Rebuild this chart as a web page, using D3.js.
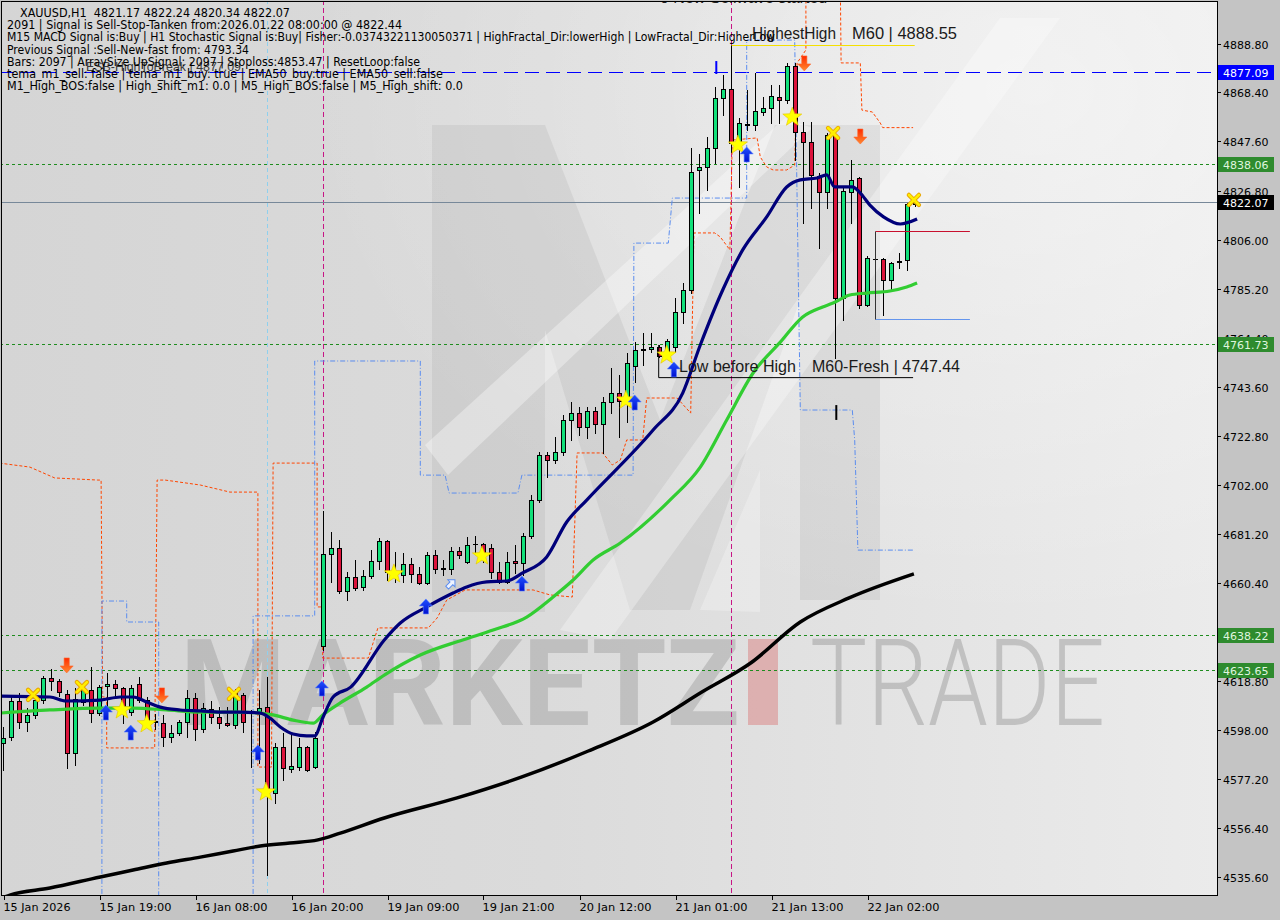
<!DOCTYPE html>
<html><head><meta charset="utf-8">
<script src="https://cdn.jsdelivr.net/npm/d3@7"></script>
<style>html,body{margin:0;padding:0;background:#c4c4c4;} svg{display:block}</style>
</head><body><svg id="c" width="1280" height="920"></svg>
<script>
// ---------------- DATA ----------------
const tickBars = [0,12,24,36,48,60,72,84,96,108];
const tickLabels = ["15 Jan 2026","15 Jan 19:00","16 Jan 08:00","16 Jan 20:00","19 Jan 09:00","19 Jan 21:00","20 Jan 12:00","21 Jan 01:00","21 Jan 13:00","22 Jan 02:00"];
const priceTicks = [4535.6,4556.4,4577.2,4598.0,4618.8,4639.6,4660.4,4681.2,4702.0,4722.8,4743.6,4764.4,4785.2,4806.0,4826.8,4847.6,4868.4,4888.8];

const open = [4592.5,4595.0,4610.3,4601.4,4604.4,4610.7,4620.1,4618.8,4613.3,4588.2,4609.9,4615.0,4605.2,4616.7,4617.6,4615.8,4605.6,4617.6,4610.7,4601.4,
4600.9,4595.0,4596.7,4601.4,4611.6,4598.4,4606.9,4603.5,4600.9,4600.1,4612.9,4605.2,4605.6,4607.7,4571.3,4590.8,4581.4,4582.3,4590.8,4582.3,
4633.6,4672.6,4675.2,4656.9,4662.9,4658.7,4663.3,4669.7,4678.2,4665.0,4663.7,4668.4,4664.2,4660.3,4672.2,4666.3,4666.3,4673.9,4669.3,4676.9,
4676.9,4675.2,4665.0,4660.8,4669.7,4668.8,4680.3,4695.5,4714.6,4712.5,4715.9,4729.5,4732.4,4726.5,4733.3,4727.8,4737.1,4740.9,4737.9,4752.4,
4759.2,4759.6,4760.4,4758.3,4760.4,4775.3,4784.6,4835.5,4836.8,4844.8,4866.0,4869.9,4846.9,4854.6,4854.6,4860.1,4861.8,4866.5,4865.2,4879.6,
4851.6,4847.4,4833.0,4826.2,4850.3,4781.2,4826.2,4832.1,4778.2,4797.8,4797.8,4788.9,4796.5,4797.4,4821.17];
const high = [4599.3,4612.9,4613.7,4607.3,4612.9,4620.9,4623.9,4619.6,4615.0,4615.8,4618.0,4624.7,4617.1,4622.2,4619.2,4616.3,4617.1,4620.5,4612.0,4605.0,
4604.4,4600.1,4602.2,4615.0,4613.7,4609.5,4610.3,4607.7,4607.7,4615.4,4613.7,4606.5,4615.0,4620.5,4592.5,4596.7,4596.3,4594.6,4591.2,4597.2,
4690.9,4682.0,4678.6,4665.0,4670.1,4665.9,4674.3,4679.4,4678.6,4673.5,4673.1,4670.9,4667.1,4673.5,4674.3,4670.1,4675.6,4675.6,4679.8,4680.3,
4677.3,4676.9,4669.3,4673.5,4676.5,4681.5,4697.7,4715.9,4715.9,4722.3,4731.6,4737.1,4735.0,4735.0,4735.0,4739.2,4751.5,4748.6,4757.9,4762.5,
4766.4,4766.4,4761.3,4763.8,4781.2,4787.6,4844.8,4842.3,4849.5,4870.7,4875.8,4888.55,4857.5,4869.4,4876.6,4866.5,4871.5,4871.5,4880.9,4880.9,
4855.8,4855.8,4834.2,4851.2,4851.2,4828.3,4839.7,4832.5,4799.0,4799.0,4798.2,4796.5,4800.3,4821.5,4822.24];
const low = [4581.0,4593.8,4598.9,4597.6,4603.1,4609.5,4615.0,4612.4,4581.9,4583.3,4608.6,4601.4,4604.4,4606.5,4612.4,4600.9,4604.4,4609.9,4599.3,4598.5,
4591.2,4592.9,4595.9,4595.0,4593.8,4597.2,4600.9,4598.9,4599.7,4598.9,4597.2,4582.3,4584.0,4536.5,4567.0,4576.8,4580.2,4581.0,4580.6,4581.9,
4631.9,4660.8,4656.1,4653.1,4657.4,4657.4,4662.5,4666.3,4661.6,4660.8,4660.8,4660.8,4659.9,4659.9,4664.6,4663.7,4664.2,4670.9,4668.8,4672.6,
4669.3,4662.5,4660.3,4660.3,4664.6,4663.7,4679.4,4694.7,4705.3,4711.2,4714.6,4721.0,4723.1,4721.8,4724.0,4715.5,4732.4,4722.3,4728.6,4745.6,
4752.8,4758.3,4756.2,4757.5,4758.3,4770.6,4783.3,4817.3,4827.0,4838.5,4858.8,4843.1,4828.3,4852.5,4852.5,4858.8,4855.4,4855.4,4864.0,4839.7,
4813.0,4819.4,4802.4,4819.4,4755.8,4771.9,4813.0,4777.0,4778.0,4796.5,4774.0,4784.6,4793.9,4793.1,4820.34];
const close = [4594.6,4610.3,4601.4,4604.4,4610.7,4620.1,4618.8,4614.1,4588.2,4611.2,4615.8,4605.2,4616.3,4617.6,4615.8,4606.1,4615.8,4610.7,4601.4,4602.0,
4595.0,4596.7,4601.4,4611.6,4598.4,4607.3,4603.5,4600.9,4600.1,4613.7,4601.4,4605.6,4607.3,4571.3,4590.8,4581.9,4582.7,4590.8,4581.0,4594.6,
4672.6,4675.2,4656.9,4662.9,4658.2,4663.3,4669.7,4678.2,4665.0,4664.6,4668.4,4664.2,4660.3,4672.2,4666.3,4666.5,4673.9,4672.2,4676.5,4677.0,
4673.1,4665.0,4660.8,4669.3,4668.8,4680.3,4695.5,4714.6,4712.5,4715.9,4729.5,4732.4,4726.5,4733.3,4727.8,4737.1,4740.9,4737.5,4753.6,4759.2,
4759.4,4760.4,4756.6,4763.0,4775.3,4784.6,4834.7,4836.8,4844.8,4866.0,4869.9,4846.9,4855.4,4854.8,4860.5,4861.8,4866.9,4865.2,4879.6,4851.6,
4847.4,4833.4,4826.2,4850.3,4781.2,4826.6,4831.3,4778.2,4798.2,4797.9,4788.9,4796.1,4796.9,4821.17,4822.07];

// moving averages: [bar index, price]
const emaFast = [[-0.4,4612.4],[5.8,4612.0],[7.8,4610.3],[12.1,4610.7],[14.6,4612.0],[16.2,4612.0],[17.9,4609.9],[19.6,4607.7],[22.1,4606.5],[24.6,4606.1],[27.1,4605.6],[29.6,4605.6],[32.1,4605.2],[33.3,4603.1],[34.6,4599.3],[36.2,4596.3],[37.9,4595.5],[38.9,4595.5],[39.9,4603.1],[41.2,4612.0],[43.4,4616.2],[47.6,4636.2],[49.6,4643.4],[52.9,4650.2],[56.2,4656.1],[57.9,4658.7],[60.4,4660.8],[62.9,4661.2],[64.9,4664.6],[67.9,4671.4],[70.4,4686.2],[72.9,4695.5],[81.2,4725.2],[84.9,4740.9],[87.1,4761.3],[89.9,4784.6],[92.4,4801.6],[95.4,4815.6],[97.9,4828.3],[99.6,4831.3],[101.7,4832.1],[102.9,4833.4],[103.9,4828.3],[106.1,4828.3],[107.1,4825.7],[108.3,4820.6],[110.0,4815.6],[112.1,4812.6],[114.2,4814.7]];
const ema50 = [[-0.4,4605.2],[5.8,4606.5],[12.1,4607.3],[16.2,4607.3],[20.4,4606.5],[24.6,4605.6],[28.7,4605.6],[32.1,4605.2],[33.7,4604.4],[36.2,4602.2],[38.7,4600.9],[39.9,4604.4],[42.1,4609.5],[45.4,4616.2],[47.6,4621.3],[52.1,4629.8],[57.4,4636.2],[61.2,4640.4],[65.4,4645.9],[68.7,4654.4],[71.2,4661.6],[73.7,4670.1],[77.1,4677.3],[83.3,4695.5],[87.1,4709.5],[90.4,4729.5],[93.7,4749.4],[97.1,4762.5],[99.9,4773.2],[102.4,4777.4],[103.7,4779.1],[105.8,4782.5],[107.9,4783.3],[110.8,4784.2],[112.9,4785.9],[114.2,4787.6]];
const ema200 = [[-0.6,4526.2],[0.8,4528.0],[5.8,4531.0],[12.1,4535.7],[16.2,4538.6],[20.4,4541.6],[24.6,4544.1],[28.7,4546.7],[32.1,4548.8],[35.8,4550.1],[39.3,4551.4],[42.1,4554.3],[47.6,4560.7],[56.7,4569.2],[64.8,4578.1],[73.1,4589.1],[81.2,4601.4],[87.3,4614.1],[93.4,4626.4],[99.6,4643.8],[105.7,4654.0],[113.8,4664.2]];

// channel step lines [bar index, price], null = break
const orangeLine = [[-0.5,4711.2],[3.3,4709.5],[6.4,4704.9],[11.8,4704.0],[12.2,4704.0],[12.4,4612.0],[12.9,4612.0],[12.9,4590.4],[18.9,4590.4],[19.2,4704.0],[20.2,4704.0],[24.6,4701.9],[28.3,4698.9],[31.8,4698.9],[31.8,4582.3],[33.5,4582.3],[33.7,4711.2],[39.2,4711.2],[39.2,4650.2],[39.9,4650.2],[39.9,4628.5],[45.6,4628.5],[46.8,4641.3],[53.1,4641.3],[54.2,4645.5],[55.4,4653.1],[57.7,4657.4],[66.2,4657.4],[68.3,4655.3],[71.1,4654.4],[71.7,4715.5],[74.9,4715.5],[76.1,4710.4],[77.1,4712.5],[77.9,4721.0],[79.9,4721.0],[80.4,4738.8],[84.2,4738.8],[85.9,4732.4],[86.3,4808.8],[88.9,4808.8],[89.6,4807.1],[90.8,4801.6],[91.1,4848.2],[94.2,4849.1],[94.6,4841.0],[95.4,4836.8],[96.2,4835.5],[97.9,4835.5],[98.9,4837.6],[99.2,4880.9],[100.3,4886.4],[100.3,4915],null,[104.6,4915],[104.7,4880.9],[107.1,4880.9],[107.3,4860.9],[108.6,4860.1],[109.6,4855.4],[109.9,4853.47],[113.7,4853.47]];
const blueLine = [[12.3,4520],[12.3,4652.7],[15.4,4652.7],[15.4,4643.8],[19.4,4643.8],[19.4,4520],null,[31.2,4520],[31.2,4646.4],[38.9,4646.4],[38.9,4754.5],[52.1,4754.5],[52.1,4706.1],[55.2,4706.1],[55.7,4698.5],[64.3,4698.5],[64.8,4706.1],[78.7,4706.1],[78.8,4804.5],[83.1,4804.5],[83.6,4823.6],[92.9,4823.6],[92.9,4890.6],[98.9,4890.6],[99.6,4733.7],[106.1,4733.7],[106.4,4721.0],[106.8,4674.3],[113.7,4674.3]];

const levels = [4877.09, 4838.06, 4822.07, 4761.73, 4638.22, 4623.65];
const levelKinds = ["blue","green","bid","green","green","green"];

const starPts = [[14.8,4606.5],[17.9,4600.6],[32.8,4571.7],[48.8,4664.2],[59.8,4671.8],[77.8,4737.9],[82.9,4757.0],[91.8,4846.1],[98.6,4857.9]];
const crossPts = [[3.7,4612.9],[9.8,4616.2],[28.8,4613.3],[103.7,4851.2],[113.8,4822.8]];
const upArrowPts = [[12.8,4605.2],[15.9,4596.7],[31.8,4588.3],[39.8,4615.4],[52.8,4650.2],[64.8,4659.9],[78.9,4736.7],[83.8,4750.7],[92.9,4841.9]];
const downArrowPts = [[7.9,4625.6],[19.8,4612.9],[100.1,4880.9],[107.1,4849.9]];
const hollowArrowPts = [[55.9,4659.9]];

const headerLines = [
 "XAUUSD,H1\u00a0\u00a04821.17 4822.24 4820.34 4822.07",
 "2091 | Signal is Sell-Stop-Tanken from:2026.01.22 08:00:00 @ 4822.44",
 "M15 MACD Signal is:Buy | H1 Stochastic Signal is:Buy| Fisher:-0.03743221130050371 | HighFractal_Dir:lowerHigh | LowFractal_Dir:HigherLow",
 "Previous Signal :Sell-New-fast from: 4793.34",
 "Bars: 2097 | ArraySize UpSignal: 2097 | Stoploss:4853.47 | ResetLoop:false",
 "tema_m1_sell: false | tema_m1_buy: true | EMA50_buy:true | EMA50_sell:false",
 "M1_High_BOS:false | High_shift_m1: 0.0 | M5_High_BOS:false | M5_High_shift: 0.0"];
const headerWidths = [270,395,768,242,413,436,456];

// ---------------- CHART ----------------
const svg = d3.select("#c");
const PR = 1217, PB = 895;
const x = d3.scaleLinear().domain([0,114]).range([3.5, 915.5]);
const y = d3.scaleLinear().domain([4528.03, 4907.59]).range([895, 0]);
const defs = svg.append("defs");
const bg = defs.append("linearGradient").attr("id","bg").attr("x1",0).attr("x2",1).attr("y1",0).attr("y2",0);
bg.append("stop").attr("offset",0).attr("stop-color","#d5d5d5");
bg.append("stop").attr("offset",0.45).attr("stop-color","#dbdbdb");
bg.append("stop").attr("offset",1).attr("stop-color","#ebebeb");
const rg = defs.append("radialGradient").attr("id","rg").attr("cx",0.85).attr("cy",0.1).attr("r",0.6);
rg.append("stop").attr("offset",0).attr("stop-color","#fff").attr("stop-opacity",0.45);
rg.append("stop").attr("offset",1).attr("stop-color","#fff").attr("stop-opacity",0);
defs.append("clipPath").attr("id","clip").append("rect").attr("x",1).attr("y",1).attr("width",PR-1).attr("height",PB-1);
const ag = defs.append("linearGradient").attr("id","dn").attr("x1",0).attr("x2",0).attr("y1",0).attr("y2",1);
ag.append("stop").attr("offset",0).attr("stop-color","#ff8a30");
ag.append("stop").attr("offset",1).attr("stop-color","#ff2a00");
const ug = defs.append("linearGradient").attr("id","up").attr("x1",0).attr("x2",0).attr("y1",0).attr("y2",1);
ug.append("stop").attr("offset",0).attr("stop-color","#2050ff");
ug.append("stop").attr("offset",1).attr("stop-color","#0010d0");

svg.append("rect").attr("width",1280).attr("height",920).attr("fill","#c4c4c4");
const plot = svg.append("g").attr("clip-path","url(#clip)");
plot.append("rect").attr("x",1).attr("y",1).attr("width",PR-1).attr("height",PB-1).attr("fill","url(#bg)");
plot.append("rect").attr("x",1).attr("y",1).attr("width",PR-1).attr("height",PB-1).attr("fill","url(#rg)");

// watermark
const wm = plot.append("g");
wm.append("path").attr("d","M432,612 L432,125 L545,125 L660,420 L775,125 L880,125 L880,600 L800,600 L800,300 L690,610 L630,610 L545,330 L545,612 Z")
  .attr("fill","#7a7a7a").attr("opacity",0.12);
wm.append("path").attr("d","M425,445 L785,118 L812,128 L448,475 Z").attr("fill","#fff").attr("opacity",0.35);
wm.append("path").attr("d","M560,630 L1000,18 L1060,18 L610,640 Z").attr("fill","#fff").attr("opacity",0.3);
wm.append("path").attr("d","M700,610 L760,470 L760,612 Z").attr("fill","#fff").attr("opacity",0.25);
wm.append("text").attr("x",180).attr("y",725).attr("font-family","Roboto, Liberation Sans, sans-serif").attr("font-weight","bold")
  .attr("font-size",120).attr("textLength",560).attr("lengthAdjust","spacingAndGlyphs").attr("fill","#8c8c8c").attr("opacity",0.35).text("MARKETZ");
wm.append("rect").attr("x",748).attr("y",639).attr("width",30).attr("height",86).attr("fill","#d98080").attr("opacity",0.5);
wm.append("text").attr("x",810).attr("y",725).attr("font-family","Roboto, Liberation Sans, sans-serif").attr("font-weight",300)
  .attr("font-size",120).attr("textLength",295).attr("lengthAdjust","spacingAndGlyphs").attr("fill","#8c8c8c").attr("opacity",0.4).text("TRADE");

// vertical separators
[[40,"#c71585","5,3"],[91,"#c71585","5,3"],[33,"#8fd0ee","4,3"]].forEach(([b,c,d])=>{
  plot.append("line").attr("x1",x(b)).attr("x2",x(b)).attr("y1",0).attr("y2",PB).attr("stroke",c).attr("stroke-dasharray",d).attr("stroke-width",1);
});

// horizontal levels
levels.forEach((v,k)=>{
  const yy = Math.round(y(v))+0.5, kind = levelKinds[k];
  const ln = plot.append("line").attr("x1",0).attr("x2",PR).attr("y1",yy).attr("y2",yy).attr("stroke-width",1);
  if(kind==="blue") ln.attr("stroke","#0000ff").attr("stroke-dasharray","14,7");
  else if(kind==="green") ln.attr("stroke","#1e8c1e").attr("stroke-dasharray","3,3");
  else ln.attr("stroke","#778899");
});

// step lines
const sl = d3.line().defined(d=>d!==null).x(d=>x(d[0])).y(d=>y(d[1]));
plot.append("path").attr("d",sl(orangeLine)).attr("fill","none").attr("stroke","#ff4500").attr("stroke-width",1).attr("stroke-dasharray","3,2");
plot.append("path").attr("d",sl(blueLine)).attr("fill","none").attr("stroke","#5b8def").attr("stroke-width",1).attr("stroke-dasharray","5,2,1,2");

// candles
const cg = plot.append("g");
open.forEach((o,i)=>{
  const c = close[i], cx = x(i);
  const yh = Math.round(y(high[i])), yl = Math.round(y(low[i]));
  cg.append("line").attr("x1",cx).attr("x2",cx).attr("y1",yh).attr("y2",yl+1).attr("stroke","#000").attr("stroke-width",1);
  const yt = Math.round(y(Math.max(o,c))), yb = Math.round(y(Math.min(o,c)));
  if(yb-yt < 1){
    cg.append("line").attr("x1",cx-2.5).attr("x2",cx+2.5).attr("y1",yt+0.5).attr("y2",yt+0.5).attr("stroke","#000").attr("stroke-width",1);
  } else {
    cg.append("rect").attr("x",cx-2).attr("y",yt+0.5).attr("width",4).attr("height",yb-yt)
      .attr("fill", c>=o ? "#12e07a" : "#dc143c").attr("stroke","#000").attr("stroke-width",1);
  }
});

// moving averages
const ml = d3.line().x(d=>x(d[0])).y(d=>y(d[1])).curve(d3.curveMonotoneX);
plot.append("path").attr("d",ml(ema200)).attr("fill","none").attr("stroke","#000").attr("stroke-width",3.5);
plot.append("path").attr("d",ml(ema50)).attr("fill","none").attr("stroke","#32cd32").attr("stroke-width",3.2);
plot.append("path").attr("d",ml(emaFast)).attr("fill","none").attr("stroke","#00007a").attr("stroke-width",3.2);

// annotation objects
plot.append("line").attr("x1",x(91)).attr("x2",x(113.9)).attr("y1",Math.round(y(4888.55))+0.5).attr("y2",Math.round(y(4888.55))+0.5).attr("stroke","#f5e000");
plot.append("path").attr("d",sl([[81.9,4761.3],[81.9,4747.44],[113.7,4747.44]])).attr("fill","none").attr("stroke","#000").attr("stroke-width",1);
// box
const bx1 = x(109), bx2 = x(120.8), by1 = Math.round(y(4809.6))+0.5, by2 = Math.round(y(4772.3))+0.5;
plot.append("line").attr("x1",bx1).attr("x2",bx2).attr("y1",by1).attr("y2",by1).attr("stroke","#c8102e");
plot.append("line").attr("x1",bx1).attr("x2",bx2).attr("y1",by2).attr("y2",by2).attr("stroke","#6495ed");
plot.append("line").attr("x1",bx1).attr("x2",bx1).attr("y1",by1).attr("y2",by2).attr("stroke","#333");
// small ticks
plot.append("line").attr("x1",x(104.1)).attr("x2",x(104.1)).attr("y1",y(4735.8)).attr("y2",y(4729.5)).attr("stroke","#000").attr("stroke-width",2);
plot.append("line").attr("x1",x(89.1)).attr("x2",x(89.1)).attr("y1",y(4881.7)).attr("y2",y(4876.2)).attr("stroke","#0000ff").attr("stroke-width",2);

// markers
function starPath(r1,r2){const p=[];for(let k=0;k<10;k++){const r=k%2?r2:r1;const a=-Math.PI/2+k*Math.PI/5;p.push([(r*Math.cos(a)).toFixed(2),(r*Math.sin(a)).toFixed(2)]);}return "M"+p.map(d=>d.join(",")).join("L")+"Z";}
const mk = plot.append("g");
starPts.forEach(d=>mk.append("path").attr("d",starPath(10,4.2)).attr("transform",`translate(${x(d[0])},${y(d[1])})`).attr("fill","#ffff00").attr("stroke","#e6c200").attr("stroke-width",0.6));
crossPts.forEach(d=>{
  const g = mk.append("g").attr("transform",`translate(${x(d[0])},${y(d[1])})`);
  ["#e8a200","#ffee00"].forEach((c,k)=>{
    g.append("path").attr("d","M-5,-5L5,5M-5,5L5,-5").attr("stroke",c).attr("stroke-width",k?2.6:4.4).attr("stroke-linecap","round");
  });
});
const upD = "M0,-8 L6.5,-1 L2.6,-1 L2.6,7 L-2.6,7 L-2.6,-1 L-6.5,-1 Z";
upArrowPts.forEach(d=>mk.append("path").attr("d",upD).attr("transform",`translate(${x(d[0])},${y(d[1])})`).attr("fill","url(#up)").attr("stroke","#5a82ff").attr("stroke-width",0.6));
downArrowPts.forEach(d=>mk.append("path").attr("d",upD).attr("transform",`translate(${x(d[0])},${y(d[1])}) scale(1,-1)`).attr("fill","url(#dn)").attr("stroke","#ff6a30").attr("stroke-width",0.6));
hollowArrowPts.forEach(d=>mk.append("path").attr("d","M0,-6 L5,-1 L2,-1 L2,5 L-2,5 L-2,-1 L-5,-1 Z").attr("transform",`translate(${x(d[0])},${y(d[1])}) rotate(45)`).attr("fill","#eef3ff").attr("stroke","#5b8def").attr("stroke-width",1));

// texts inside plot
const tf = "Liberation Sans, Arial, sans-serif";
plot.append("text").attr("x",660).attr("y",3).attr("font-family",tf).attr("font-size",16).attr("fill","#222").text("0 New Sellwave started");
plot.append("text").attr("x",752).attr("y",39).attr("font-family",tf).attr("font-size",17).attr("fill","#1a1a1a").attr("textLength",84).attr("lengthAdjust","spacingAndGlyphs").text("HighestHigh");
plot.append("text").attr("x",852).attr("y",39).attr("font-family",tf).attr("font-size",17).attr("fill","#1a1a1a").attr("textLength",105).attr("lengthAdjust","spacingAndGlyphs").text("M60 | 4888.55");
plot.append("text").attr("x",679).attr("y",372).attr("font-family",tf).attr("font-size",17).attr("fill","#1a1a1a").attr("textLength",117).attr("lengthAdjust","spacingAndGlyphs").text("Low before High");
plot.append("text").attr("x",812).attr("y",372).attr("font-family",tf).attr("font-size",17).attr("fill","#1a1a1a").attr("textLength",148).attr("lengthAdjust","spacingAndGlyphs").text("M60-Fresh | 4747.44");
plot.append("text").attr("x",86).attr("y",71).attr("font-family",tf).attr("font-size",13).attr("fill","#3a3a3a").attr("textLength",155).attr("lengthAdjust","spacingAndGlyphs").text("ESB-HighToBreak | 4877.09");
const hf = "DejaVu Sans, Verdana, sans-serif";
const hb = [17,29,41,54,66,78,90];
headerLines.forEach((t,k)=>{
  plot.append("text").attr("x",k===0?20:7).attr("y",hb[k]).attr("font-family",hf).attr("font-size",11.5).attr("fill","#000")
    .attr("textLength",headerWidths[k]).attr("lengthAdjust","spacingAndGlyphs").text(t);
});

// frame
svg.append("rect").attr("x",1.5).attr("y",1.5).attr("width",PR-1).attr("height",PB-1).attr("fill","none").attr("stroke","#000").attr("stroke-width",1);

// right axis
const af = "DejaVu Sans, Verdana, sans-serif";
priceTicks.forEach(v=>{
  const yy = Math.round(y(v))+0.5;
  svg.append("line").attr("x1",PR).attr("x2",PR+4).attr("y1",yy).attr("y2",yy).attr("stroke","#000");
  svg.append("text").attr("x",1223).attr("y",yy+4).attr("font-family",af).attr("font-size",11).attr("fill","#000").text(v.toFixed(2));
});
levels.forEach((v,k)=>{
  const yy = Math.round(y(v)), kind = levelKinds[k];
  const bgc = kind==="blue" ? "#0000ff" : kind==="bid" ? "#000" : "#2e8b2e";
  const fc = kind==="green" ? "#dff5df" : "#fff";
  svg.append("rect").attr("x",1218).attr("y",yy-7).attr("width",56).attr("height",15).attr("fill",bgc);
  svg.append("text").attr("x",1223).attr("y",yy+4.5).attr("font-family",af).attr("font-size",11).attr("fill",fc).text(v.toFixed(2));
});

// bottom axis
tickBars.forEach((b,k)=>{
  const xx = Math.round(x(b))+0.5;
  svg.append("line").attr("x1",xx).attr("x2",xx).attr("y1",PB).attr("y2",PB+5).attr("stroke","#000");
  svg.append("text").attr("x",xx-1).attr("y",911).attr("font-family",af).attr("font-size",11).attr("fill","#000")
    .attr("textLength",k===0?67:72).attr("lengthAdjust","spacingAndGlyphs").text(tickLabels[k]);
});
</script></body></html>
